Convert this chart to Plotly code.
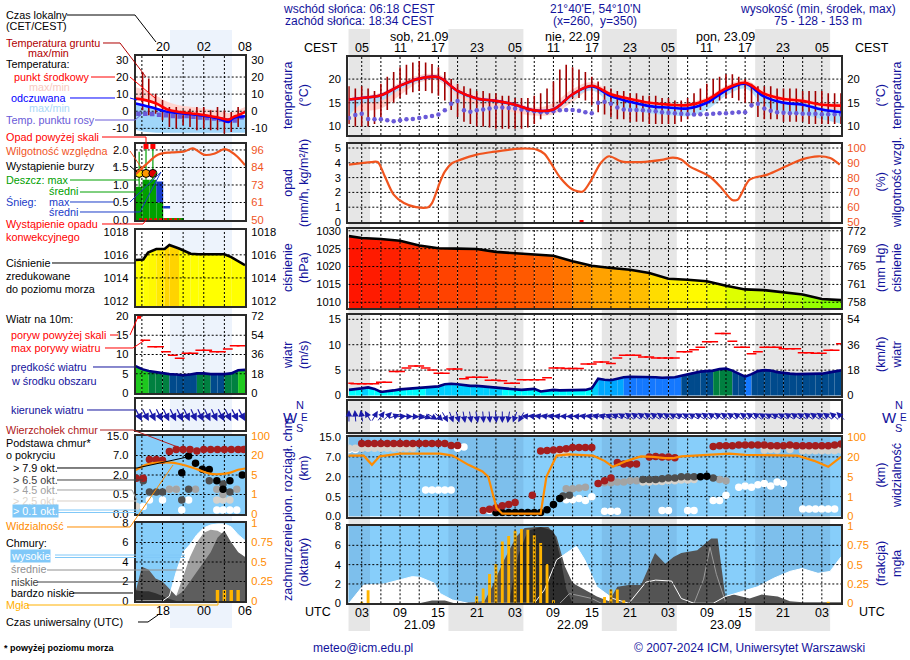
import numpy as np
import plotly.graph_objects as go
from plotly.colors import sample_colorscale

W, H = 910, 660
FONT = "Liberation Sans, Arial, Helvetica, sans-serif"
NAVY = "#12129c"
FRAME = "#2a2a2a"
ORANGE = "#ff8c00"
HUMC = "#f0541e"
SKY = "#87cefa"

# ======================= DATA (main: hours since 21.09 00 UTC) =======================
utc_ticks = [3, 9, 15, 21, 27, 33, 39, 45, 51, 57, 63, 69, 75]
utc_labels = ["03", "09", "15", "21", "03", "09", "15", "21", "03", "09", "15", "21", "03"]
cest_labels = ["05", "11", "17", "23", "05", "11", "17", "23", "05", "11", "17", "23", "05"]
day_pos = [12, 36, 60]
day_top = ["sob, 21.09", "nie, 22.09", "pon, 23.09"]
day_bottom = ["21.09", "22.09", "23.09"]
sunrise_utc = 4.3
sunset_utc = 16.57

t3 = [1, 3, 6, 9, 12, 15, 18, 21, 24, 27, 30, 33, 36, 39, 42, 45, 48, 51, 54, 57, 60, 63, 66, 69, 72, 75, 78]
temp_mid = [15.7, 16.0, 16.6, 18.6, 20.1, 20.4, 17.5, 15.9, 15.4, 14.6, 13.4, 13.6, 16.8, 18.6, 16.8, 15.8, 15.0, 14.6, 14.5, 15.6, 18.0, 19.2, 16.9, 15.8, 15.4, 14.6, 14.4]
temp_hi = [16.2, 16.5, 17.1, 19.3, 20.8, 21.0, 18.4, 16.5, 15.9, 15.1, 14.0, 14.9, 17.9, 19.4, 17.3, 16.2, 15.4, 15.0, 15.0, 16.2, 18.6, 19.8, 17.5, 16.3, 15.9, 15.1, 14.9]
temp_lo = [13.6, 13.3, 13.8, 16.6, 19.3, 19.6, 16.3, 14.6, 14.1, 12.9, 12.3, 12.6, 15.2, 17.8, 15.8, 14.8, 14.0, 13.5, 13.4, 14.6, 17.0, 18.4, 15.5, 14.5, 14.0, 13.2, 12.2]
feels_mid = [15.7, 16.0, 16.6, 18.6, 20.1, 20.4, 17.5, 15.9, 15.4, 14.6, 13.4, 13.6, 16.8, 18.5, 16.4, 15.2, 14.3, 14.0, 13.8, 15.0, 17.6, 19.0, 16.3, 15.0, 14.6, 13.6, 13.0]
feels_hi = [15.9, 16.2, 16.8, 18.8, 20.3, 20.6, 17.7, 16.1, 15.6, 14.8, 13.6, 13.9, 17.1, 18.9, 16.8, 15.6, 14.7, 14.4, 14.2, 15.4, 18.0, 19.4, 16.7, 15.4, 15.0, 14.0, 13.5]
feels_lo = [12.2, 14.8, 15.4, 17.8, 19.6, 19.9, 16.9, 15.4, 14.9, 14.1, 12.9, 13.1, 16.0, 17.6, 15.0, 13.6, 12.8, 12.4, 12.2, 13.5, 16.5, 18.0, 14.5, 13.0, 12.5, 11.5, 10.6]

hours = list(range(1, 79))
ground_max = [18.5, 18.0, 18.5, 18.0, 17.5, 19.0, 20.5, 21.5, 22.5, 23.0,
              23.5, 23.8, 23.5, 23.2, 22.5, 21.5, 20.0, 19.0, 18.5, 18.0,
              17.5, 17.5, 17.0, 17.0, 16.5, 16.5, 16.0, 16.0, 16.0, 16.5,
              17.0, 18.0, 19.5, 22.0, 23.0, 22.5, 22.0, 21.5, 20.5, 19.5,
              18.5, 18.0, 17.5, 17.5, 17.0, 17.0, 16.5, 16.5, 16.5, 16.0,
              16.0, 15.5, 15.5, 16.0, 17.0, 18.0, 19.0, 20.0, 20.5, 21.0,
              21.0, 20.5, 20.0, 19.0, 18.5, 18.5, 18.5, 18.0, 18.0, 18.0,
              18.0, 17.5, 17.5, 17.5, 17.5, 17.0, 17.0, 17.0]
ground_min = [10.5, 10.0, 10.0, 10.0, 10.5, 12.0, 13.5, 15.0, 16.0, 16.7,
              17.2, 17.5, 17.5, 17.0, 16.5, 15.5, 13.5, 12.0, 11.0, 10.5,
              10.0, 10.0, 9.8, 9.5, 9.5, 9.5, 9.5, 9.5, 9.8, 10.5,
              11.5, 12.5, 14.0, 15.0, 15.5, 16.0, 16.0, 15.5, 14.5, 13.0,
              12.5, 12.0, 11.5, 11.5, 11.0, 11.0, 11.0, 10.5, 10.5, 10.5,
              10.5, 10.5, 11.0, 11.5, 12.5, 13.5, 14.5, 15.0, 15.5, 16.0,
              16.0, 15.5, 15.0, 14.0, 12.0, 11.5, 11.5, 11.5, 11.0, 11.0,
              11.0, 11.0, 10.5, 10.5, 10.5, 10.5, 10.5, 10.5]
dew_point = [11.8, 12.4, 12.7, 11.6, 11.5, 11.5, 11.3, 11.1, 11.3, 11.5,
             11.6, 11.8, 12.0, 12.2, 12.5, 13.4, 14.8, 15.4, 13.4, 13.1,
             13.4, 13.6, 13.8, 14.0, 14.0, 13.9, 13.8, 13.6, 13.4, 13.2,
             13.0, 13.0, 13.2, 13.4, 13.5, 13.5, 13.3, 13.0, 12.8, 15.0,
             15.2, 14.8, 14.0, 13.6, 13.5, 13.5, 13.4, 13.3, 13.2, 13.0,
             12.9, 12.8, 12.7, 12.6, 12.5, 12.6, 12.6, 12.7, 12.8, 12.8,
             12.9, 13.0, 13.0, 14.5, 14.8, 13.8, 13.3, 13.0, 12.9, 12.8,
             12.8, 12.7, 12.7, 12.7, 12.6, 12.6, 12.6, 12.5]

hum_t = [1, 4.5, 5.5, 6.5, 8, 9.6, 11.5, 13.4, 14, 15.3, 16, 17.2, 18.4, 21, 23.4, 27.8, 30.4, 31.6, 34.1, 36,
         37.6, 38.8, 40.4, 41.7, 43.6, 46.7, 49.9, 51.7, 53, 54.3, 57.4, 59.3, 60.9, 61.8, 63.7, 66.5, 69.4, 71.9,
         74.4, 76.3, 77.8]
humidity = [88.8, 90.5, 90.5, 82, 68.5, 62.8, 60, 60, 62.8, 77.5, 84, 89.9, 92, 95.5, 97.3, 99.6, 98.9, 96, 79.7, 71.9,
            70.6, 77.5, 89.9, 94.4, 91, 90.5, 92, 93.5, 92.3, 87.6, 80.9, 73, 65.1, 65, 78.6, 82, 87.6, 92.3,
            94.4, 93.3, 88.8]
conv_precip_t = [37.4]
conv_precip_v = [0.0]

press = [1028.5, 1028.0, 1027.7, 1027.2, 1025.9, 1025.1, 1025.0, 1024.9, 1024.1, 1023.7, 1023.4, 1023.0, 1021.5,
         1020.2, 1019.6, 1019.1, 1018.2, 1016.6, 1016.3, 1015.9, 1014.6, 1013.6, 1013.4, 1012.7, 1012.2, 1010.9, 1010.6]
press_ticks = [1010, 1015, 1020, 1025, 1030]
mmhg_labels = ["758", "761", "765", "769", "772"]

wind = [1.1, 1.2, 1.4, 1.6, 1.3, 0.7, 0.8, 1.0, 1.2, 1.3,
        1.3, 1.4, 1.5, 1.6, 1.8, 2.2, 2.3, 2.2, 2.0, 1.9,
        1.9, 1.8, 1.7, 1.6, 1.5, 1.4, 1.2, 1.1, 1.2, 1.3,
        0.8, 1.0, 1.1, 1.0, 1.0, 1.0, 1.0, 1.1, 1.4, 3.3,
        3.1, 3.0, 3.3, 3.6, 3.7, 3.7, 3.7, 3.7, 3.6, 3.5,
        3.5, 3.6, 3.9, 4.2, 4.5, 4.7, 4.8, 4.9, 5.2, 5.3,
        4.9, 4.3, 3.7, 4.2, 4.8, 5.0, 4.9, 4.6, 4.4, 4.3,
        4.2, 4.2, 4.2, 4.3, 4.3, 4.5, 4.7, 4.95]
gust = [2.4, 2.3, 2.3, 2.3, 2.3, 2.6, 2.6, 4.7, 4.7, 5.4,
        5.8, 5.8, 5.4, 5.0, 4.4, 4.4, 5.2, 5.2, 3.3, 3.6,
        3.6, 3.6, 3.0, 3.0, 2.9, 2.4, 2.4, 3.1, 3.1, 3.1,
        3.1, 3.5, 5.4, 5.4, 5.3, 5.3, 5.3, 6.2, 6.2, 6.6,
        6.6, 6.3, 7.4, 7.9, 7.9, 7.9, 7.6, 7.6, 7.4, 7.4,
        7.4, 7.4, 8.6, 8.6, 9.0, 9.5, 10.6, 10.6, 12.2, 12.2,
        10.7, 9.5, 9.5, 8.2, 8.6, 9.5, 9.5, 9.5, 9.2, 9.2,
        9.2, 8.4, 8.4, 8.3, 8.3, 8.9, 8.9, 10.2]
wind_dir = [90, 95, 100, 120, 60, 55, 45, 20, 5, 0,
            -5, -10, -20, -30, -45, -60, -70, -75, -80, -80,
            -80, -85, -85, -85, -90, -100, -110, -120, 175, 172,
            170, 168, 170, 172, 175, 178, 175, 170, 168, 165,
            165, 160, 155, 150, 145, 145, 145, 145, 145, 145,
            148, 150, 150, 150, 150, 148, 145, 145, 145, 145,
            145, 145, 145, 145, 145, 150, 152, 152, 150, 148,
            148, 148, 145, 145, 145, 145, 140, 135]

# cloud tops / bases (km a.s.l.)
ctop_t = [3, 4, 5, 6, 7, 8, 9, 10, 11, 12, 13, 14, 15, 16, 17, 18,
          22, 23, 24, 25, 26, 27, 29.7,
          31, 32, 33, 34, 35, 36, 37, 38, 39,
          40, 41, 42, 43, 44, 45, 46,
          48, 49, 50, 51, 52,
          58, 59, 60, 61, 62, 63, 64, 65, 66, 67, 68, 69, 70, 71, 72, 73, 74, 75, 76, 77, 78]
ctop_km = [12.4, 12.4, 12.4, 12.4, 12.4, 12.4, 12.4, 12.4, 12.4, 12.4, 12.4, 12.4, 12.4, 12.4, 11.6, 11.6,
           0.15, 0.18, 0.22, 0.27, 0.3, 0.35, 0.6,
           9.4, 9.6, 9.8, 10.0, 10.3, 10.8, 10.8, 10.8, 10.8,
           1.5, 1.7, 1.9, 5.6, 5.2, 5.2, 5.2,
           7.0, 7.2, 7.0, 7.0, 6.8,
           11.2, 11.5, 11.5, 11.5, 11.8, 11.8, 11.8, 11.8, 11.8, 11.5, 11.5, 11.5, 11.8, 11.5, 11.5, 11.5, 11.5, 11.5, 11.5, 11.8, 12.2]
cb79_t = [24, 25, 26, 27, 28, 29, 30, 31, 32, 33, 34, 56, 57]
cb79_km = [0.1, 0.1, 0.1, 0.1, 0.1, 0.1, 0.1, 0.1, 0.17, 0.3, 0.45, 2.0, 2.1]
cb65_t = [34.5, 35.5, 47, 48, 49, 50, 51, 52, 53, 54, 55, 58]
cb65_km = [0.55, 0.6, 1.8, 1.8, 1.8, 1.85, 1.9, 1.9, 2.0, 2.0, 2.0, 1.9]
cb45_t = [35, 36, 37, 38, 40, 41, 42, 43, 44, 45, 46, 59, 60]
cb45_km = [1.1, 1.1, 1.15, 1.2, 1.5, 1.55, 1.55, 1.6, 1.6, 1.7, 1.7, 1.8, 1.7]
cb25_t = [1, 2, 3, 4, 5, 6, 7, 8, 9, 10, 11, 34, 35, 47, 48, 49, 50, 51, 52, 53, 54, 55,
          66, 67, 68, 70, 72, 73, 74, 75, 76, 77, 78]
cb25_km = [10.5, 10.5, 10.5, 10.5, 10.5, 10.5, 10.5, 10.5, 10.5, 10.5, 10.5, 8.5, 8.5,
           1.6, 1.6, 1.65, 1.65, 1.7, 1.7, 1.75, 1.75, 1.8,
           9.8, 10.0, 9.8, 10.0, 9.5, 9.5, 9.5, 9.5, 9.5, 9.5, 9.8]
cb01_t = [1, 2, 13, 14, 15, 16, 17, 18, 19, 22, 23, 35, 36, 37, 38, 39, 41, 42, 43, 50, 51, 54, 55,
          58, 59, 60, 62, 63, 64, 65, 66, 67, 68, 69, 72, 73, 74, 75, 76, 77]
cb01_km = [10.0, 10.0, 1.0, 1.0, 1.0, 1.0, 1.0, 10.5, 11.0, 0.15, 0.15, 0.42, 0.42, 0.45, 0.4, 0.5,
           0.13, 0.13, 0.13, 0.15, 0.15, 0.15, 0.15, 0.4, 0.4, 0.6, 1.2, 1.3, 1.2, 1.4, 1.5, 1.3, 1.6, 1.5,
           0.19, 0.19, 0.19, 0.19, 0.19, 0.19]
vis_t = [0.9, 3.3, 4.6, 5.8, 9, 15.3, 17.2, 19.7, 21.9, 22.8, 24.1, 25, 31, 31.9, 33.5, 35.4, 39.2, 41, 42.3,
         44.5, 46.7, 48.6, 50.5, 51.7, 53, 56.8, 60.5, 63, 65.6, 68.7, 71.2, 73.8, 76, 78]
vis_km = [24.8, 24.8, 14, 22, 32.8, 32.8, 25, 14, 9, 5, 0.42, 0.14, 0.14, 5, 25, 30, 25, 17, 12.5,
          17, 22, 20, 19, 19, 22, 28, 33, 28, 28, 25, 25, 17, 12.5, 20]

# cloud cover (octas) and fog fraction
high_t = [1, 3.3, 6.5, 10.9, 12.1, 14.3, 15.3, 17.2, 19.7, 30, 31.6, 33.5, 36.6, 37.9, 39.8, 42.3, 44.8,
          47.5, 49, 51.5, 53, 55, 58, 59.9, 62.4, 64.9, 67.5, 70, 71.9, 74.4, 76.3, 78]
high_cc = [0, 1.9, 2.0, 2.76, 2.7, 2.1, 1.0, 0.34, 0, 0, 1.4, 4.5, 5.9, 4.5, 1.7, 0.5, 0,
           2.2, 2.4, 2.3, 0.5, 0, 0, 0.7, 1.2, 1.7, 2.6, 3.3, 3.6, 3.1, 3.3, 4.8]
low_t = [1, 12, 14, 16, 17.5, 22.2, 23.4, 25.3, 27.2, 28.5, 30.4, 32.2, 33.5, 34.8, 36, 37.9, 39.8, 41.7, 43,
         44.8, 46.7, 48.9, 50.5, 51.8, 53, 55.5, 57.7, 58.7, 59.9, 61.2, 63.7, 65.6, 68.1, 70, 72, 78]
low_cc = [0, 0, 0.3, 0.3, 0, 0.2, 1.7, 4.5, 6.9, 7.8, 7.9, 7.9, 6.9, 3.8, 2.1, 1.4, 0.7, 0.2, 1.7,
          1.9, 1.9, 5.2, 4.1, 4.8, 5.2, 5.5, 6.7, 6.7, 0.7, 0.9, 0.5, 0.9, 0.7, 0.2, 0.1, 0.1]
vlow_t = [26, 27.5, 29, 31, 33, 34, 35, 36]
vlow_cc = [0, 5.0, 7.5, 7.9, 7.5, 5.0, 1.5, 0]
mid_t = [34, 35.5, 37, 39, 40.5, 55, 56.5, 57.5, 58.5, 60]
mid_cc = [0, 1.0, 0.8, 0.5, 0, 0, 2.5, 5.8, 3.0, 0]
fog_t = [3, 4, 21, 22, 23, 24, 25, 26, 27, 28, 29, 30, 31, 32, 33, 41, 42, 43, 44, 76]
fog = [0.02, 0.17, 0.09, 0.19, 0.38, 0.51, 0.8, 0.87, 0.94, 0.96, 0.95, 0.88, 0.78, 0.51, 0.04, 0.08, 0.18, 0.18, 0.04, 0.02]

# ======================= DATA (legend mini panels: hours since 20.09 00 UTC) =======================
m_ticks = [18, 24, 30]
m_top_labels = ["20", "02", "08"]
m_bot_labels = ["18", "00", "06"]
mt_t = [14.1, 15.2, 17.1, 18.7, 20.4, 22.3, 24.2, 26.1, 27.6, 28.3, 29.0, 30.0]
mt_mid = [7.4, 6.8, 4.5, 1.0, -0.4, -1.3, -2.3, -3.7, -4.9, -3.4, -2.3, -0.4]
mt_hi = [14.0, 12.5, 9.0, 5.5, 3.5, 2.5, 1.5, 0.5, -1.0, -0.5, 0.8, 2.5]
mt_feel = [4.5, 3.5, 1.5, -0.3, -1.0, -1.8, -2.8, -4.2, -6.2, -4.0, -3.4, -2.9]
mt_feel_lo = [-11, -12, -12.5, -12.5, -12.5, -12.5, -12.5, -12.5, -12.5, -12.5, -12.5, -12.5]
mg_t = [15.1, 16.0, 17.0, 18.0, 19.0, 20.0, 21.0, 22.0, 23.0, 24.0, 25.0, 26.0, 27.0, 28.0, 29.0]
mg_max = [23.0, 19.1, 10.3, 6.4, 2.5, 2.5, 0.6, 1.5, 2.5, 2.5, 0.6, 2.5, 0.6, -0.5, 2.5]
mg_min = [0.6, -2.3, -1.4, -5.3, -9.2, -10.1, -8.2, -9.2, -11.1, -10.1, -11.1, -11.1, -13.0, -12.1, -9.2]
md_t = [14.5, 15.5, 16.5, 17.5, 18.5, 19.5, 20.5, 21.5, 22.5, 23.5, 24.5, 25.5, 26.5, 27.5, 28.5, 29.5]
md = [-1.4, -1.4, -1.6, -2.0, -2.4, -2.8, -3.0, -2.8, -3.2, -3.6, -3.9, -4.2, -4.8, -5.2, -5.4, -3.5]
mp_t = [14.6, 15.6, 16.6, 17.6, 18.6, 19.6, 20.6]
m_rain = [0.95, 1.15, 1.15, 0.5, 0.05, 0.05, 0.05]
m_snow_lo = [0, 0, 0, 0.5, 0.33, 0, 0]
m_snow_hi = [0, 0, 0, 1.1, 0.4, 0, 0]
m_rmax_t = [14.6, 15.6, 16.6]
m_rmax_base = [0.95, 1.15, 1.15]
m_rmax = [1.95, 2.1, 2.1]
m_storm_y = [1.33, 1.33, 1.33]
m_storm_col = ["#ffe000", "#ff9900", "#e00000"]
m_over_t = [15.6, 16.6]
m_over_y = [2.1, 2.1]
mh_t = [14.1, 15.5, 17.4, 19.3, 21.2, 22.4, 24.1, 25.5, 27.0, 27.9, 28.9, 30.0]
mh = [80, 86, 93, 94.4, 95, 97, 92.8, 93.5, 96.5, 95, 91.5, 86]
mpr_t = [14.1, 15.2, 15.9, 17.1, 18.3, 19.0, 20.4, 22.1, 23.2, 27.0, 28.0, 30.0]
mpr = [1015.55, 1015.6, 1016.2, 1016.5, 1016.5, 1016.85, 1016.55, 1016.1, 1016.05, 1016.05, 1015.8, 1015.1]
mw_t = [14.1, 15, 16, 17, 18, 19, 20, 21, 22, 23, 24, 25, 26, 27, 28, 29, 30]
mw = [7.0, 6.2, 5.7, 5.4, 5.1, 4.9, 4.8, 4.6, 4.8, 5.1, 5.1, 4.9, 4.9, 4.9, 5.1, 5.9, 6.0]
mgust_t = [15.5, 16.5, 17.5, 18.5, 19.5, 20.5, 21.5, 22.5, 23.5, 24.5, 25.5, 26.5, 27.5, 28.5, 29.5]
mgust = [13.7, 12.0, 12.0, 10.7, 9.8, 9.0, 10.3, 10.3, 11.1, 11.1, 10.7, 10.7, 11.4, 12.3, 12.3]
m_gust_over_t = [14.6]
m_gust_over = [19.8]
mdir_t = [14.5, 15.5, 16.5, 17.5, 18.5, 19.5, 20.5, 21.5, 22.5, 23.5, 24.5, 25.5, 26.5, 27.5, 28.5, 29.5]
mdir = [-62, -62, -63, -63, -64, -64, -64, -65, -65, -65, -64, -64, -63, -63, -62, -62]
mtop_t = [14.2, 15.2, 16.1, 17.1, 18.0, 19.0, 20.0, 21.0, 22.0, 23.0, 24.0, 25.0, 26.0, 27.0, 28.0, 29.0, 29.8]
mtop_km = [1.75, 1.75, 6.0, 6.0, 5.8, 8.6, 9.5, 9.5, 9.5, 8.8, 9.5, 9.5, 9.5, 9.5, 9.5, 9.5, 9.5]
mb79_t = [20.8, 21.8, 22.8, 23.8, 24.8, 25.9, 26.8, 27.8, 29.6]
mb79_km = [2.6, 6.9, 5.0, 3.5, 3.4, 1.55, 0.9, 1.55, 2.0]
mb65_t = [15.2, 16.1, 17.1, 18.0, 20.8, 21.8, 24.8, 26.8, 27.8]
mb65_km = [1.55, 0.7, 0.7, 0.7, 0.36, 0.9, 1.55, 1.3, 0.7]
mb45_t = [19.0, 20.0, 22.8, 25.9, 26.8, 28.8]
mb45_km = [0.9, 0.9, 0.9, 0.9, 0.5, 0.9]
mb25_t = [14.2, 19.0, 20.0, 25.9, 26.8, 27.8]
mb25_km = [0.2, 0.9, 0.9, 0.36, 0.36, 0.36]
mb01_t = [15.2, 16.1, 18.0, 20.8, 21.8, 25.9, 26.8, 27.8, 28.8]
mb01_km = [0.19, 0.36, 0.36, 0.1, 0.36, 0.1, 0.1, 0.1, 0.1]
mv_t = [14.1, 15.7, 17.4, 19.3, 21.2, 23.0, 24.9, 26.8, 28.0, 29.0, 30.0]
mv_km = [8.9, 13, 14.5, 14.5, 12.5, 9.5, 6, 5.8, 7, 9, 10]
mc_t = [14.1, 15, 16, 17, 18, 19, 20, 21, 22, 23, 24, 25, 26, 27, 28, 29, 30]
mc_high = [0, 0, 0, 0, 0, 0.5, 3.0, 5.0, 5.8, 6.8, 7.5, 7.8, 7.9, 7.9, 7.6, 6.8, 6.2]
mc_mid = [0, 0, 0, 0, 0, 0, 0.5, 2.5, 4.5, 6.0, 7.0, 7.3, 7.2, 6.8, 6.0, 5.0, 4.5]
mc_low = [1.0, 3.5, 3.2, 2.3, 2.0, 1.2, 0.5, 1.0, 2.0, 3.0, 4.0, 5.0, 6.5, 7.2, 6.0, 5.0, 4.5]
mc_vlow = [1.1, 1.0, 1.0, 0.8, 0.5, 0.2, 0, 0, 0, 0, 0, 0, 0, 0, 0, 0, 0]
mf_t = [26, 27, 28, 29]
mf = [0.14, 0.14, 0.14, 0.14]

# ======================= helpers =======================
CLOUD_KM = [0, 0.5, 2, 7, 15]
VIS_KM = [0, 1, 5, 20, 100]
TICKF = 11.2
LEGF = 10.8


def idx_cloud(v):
    return list(np.interp(v, CLOUD_KM, [0, 1, 2, 3, 4]))


def idx_vis(v):
    return list(np.interp(v, VIS_KM, [0, 1, 2, 3, 4]))


P_CS = [[0.0, "rgb(120,255,0)"], [0.15, "rgb(205,255,0)"], [0.3, "rgb(255,255,0)"],
        [0.5, "rgb(255,170,0)"], [0.75, "rgb(255,80,0)"], [1.0, "rgb(255,18,0)"]]
MP_CS = [[0.0, "rgb(255,255,0)"], [1.0, "rgb(255,200,0)"]]


def wind_color(v):
    if v >= 5.8:
        return "#1ec81e"
    if v >= 5.0:
        return "#008040"
    if v >= 4.0:
        return "#004a8c"
    if v >= 3.5:
        return "#1478ff"
    if v >= 2.5:
        return "#00a8ff"
    if v >= 1.5:
        return "#00d0ff"
    return "#00ffff"


fig = go.Figure()
L = dict(width=W, height=H, margin=dict(l=0, r=0, t=0, b=0, pad=0, autoexpand=False), paper_bgcolor="white",
         plot_bgcolor="rgba(0,0,0,0)", showlegend=False, barmode="overlay",
         font=dict(family=FONT, size=TICKF, color="black"))
shapes, annos = [], []
cnt = {"x": 0, "y": 0}


def _new(k):
    cnt[k] += 1
    n = cnt[k]
    return (f"{k}axis" if n == 1 else f"{k}axis{n}"), (k if n == 1 else f"{k}{n}")


def panel(xpx, ypx, xr, yr, lt=(), ltt=None, rt=None, rtt=None, rcol="black", yr2=None):
    xk, xa = _new("x")
    yk, ya = _new("y")
    L[xk] = dict(domain=[xpx[0] / W, xpx[1] / W], range=list(xr), anchor=ya, showgrid=False, zeroline=False,
                 showline=True, mirror=True, linecolor=FRAME, linewidth=2, ticks="", showticklabels=False,
                 fixedrange=True, automargin=False)
    L[yk] = dict(domain=[1 - ypx[1] / H, 1 - ypx[0] / H], range=list(yr), anchor=xa, showgrid=False,
                 zeroline=False, showline=True, mirror=True, linecolor=FRAME, linewidth=2, tickmode="array",
                 tickvals=list(lt), ticktext=ltt if ltt is not None else [str(v) for v in lt],
                 ticks="outside", ticklen=3, tickcolor="rgba(0,0,0,0)", fixedrange=True, automargin=False)
    y2 = None
    if rt is not None:
        yk2, y2 = _new("y")
        r2 = list(yr2 if yr2 is not None else yr)
        L[yk2] = dict(overlaying=ya, side="right", anchor=xa, range=r2, showgrid=False, zeroline=False,
                      showline=False, tickmode="array", tickvals=list(rt),
                      ticktext=rtt if rtt is not None else [str(v) for v in rt], ticks="outside", ticklen=3,
                      tickcolor="rgba(0,0,0,0)", tickfont=dict(color=rcol), fixedrange=True, automargin=False)
        fig.add_trace(go.Scatter(x=[xr[0]], y=[r2[0]], mode="markers", marker=dict(opacity=0),
                                 xaxis=xa, yaxis=y2, hoverinfo="skip"))
    return dict(x=xa, y=ya, y2=y2, xk=xk, yk=yk, xr=xr, yr=yr, r2=yr2)


def sc(p, y2=False, **kw):
    fig.add_trace(go.Scatter(xaxis=p["x"], yaxis=(p["y2"] if y2 else p["y"]), hoverinfo="skip", **kw))


def grid(p, xs, ys, y2=False):
    xr = p["xr"]
    yr = p["r2"] if y2 else p["yr"]
    gx, gy = [], []
    for v in xs:
        if xr[0] + 0.2 < v < xr[1] - 0.2:
            gx += [v, v, None]
            gy += [yr[0], yr[1], None]
    for v in ys:
        if yr[0] < v < yr[1]:
            gx += [xr[0], xr[1], None]
            gy += [v, v, None]
    sc(p, y2=y2, x=gx, y=gy, mode="lines", line=dict(color="black", width=1, dash="2px,2px"))


def seg_fill(p, t, v, colors):
    for i in range(len(t) - 1):
        sc(p, x=[t[i], t[i + 1]], y=[v[i], v[i + 1]], mode="lines", fill="tozeroy",
           fillcolor=colors[i], line=dict(width=0.8, color=colors[i]))


def vbars(p, t, lo, hi, color, width):
    gx, gy = [], []
    for a, b, c in zip(t, lo, hi):
        gx += [a, a, None]
        gy += [b, c, None]
    sc(p, x=gx, y=gy, mode="lines", line=dict(color=color, width=width))


def arrows(p, ts, angs, length=13, width=1.0, size=1.3):
    for t, a in zip(ts, angs):
        r = np.radians(a)
        dx, dy = float(np.cos(r)), float(np.sin(r))
        annos.append(dict(x=t, y=0, xref=p["x"], yref=p["y"], text="", showarrow=True, arrowhead=2,
                          arrowsize=size, arrowwidth=width, arrowcolor="#1a1aa8", ax=-length * dx,
                          ay=length * dy, xshift=length / 2 * dx, yshift=length / 2 * dy))


def sky_bg(p, nights):
    shapes.append(dict(type="rect", xref=p["x"], yref=p["y"], x0=p["xr"][0], x1=p["xr"][1],
                       y0=p["yr"][0], y1=p["yr"][1], fillcolor=SKY, line=dict(width=0), layer="below"))
    for a, b in nights:
        shapes.append(dict(type="rect", xref=p["x"], yref=p["y"], x0=a, x1=b, y0=p["yr"][0], y1=p["yr"][1],
                           fillcolor="rgba(0,0,60,0.07)", line=dict(width=0), layer="below"))


def dots(p, t, km, color, size=7.5):
    sc(p, x=t, y=idx_cloud(km), mode="markers", marker=dict(size=size, color=color, line=dict(width=0)))


def xlabels(p, vals, labels, ypx, size=12.5):
    for v, s in zip(vals, labels):
        annos.append(dict(text=s, x=v, y=1 - ypx / H, xref=p["x"], yref="paper", showarrow=False,
                          xanchor="center", yanchor="middle", font=dict(size=size, color="black")))


# ======================= MAIN PANELS =======================
XR = (0.9, 78.0)
MX = (348.3, 841)
vgrid = list(range(3, 78, 3))
nights = [(XR[0], sunrise_utc)] + [(sunset_utc + 24 * k, sunrise_utc + 24 * (k + 1)) for k in range(3)]

pT = panel(MX, (57, 135), XR, (8.2, 24.66), lt=[10, 15, 20], rt=[10, 15, 20])
pP = panel(MX, (144, 222), XR, (0, 5.27), lt=[0, 1, 2, 3, 4, 5], rt=[50, 60, 70, 80, 90, 100], rcol=HUMC,
           yr2=(50, 102.7))
pS = panel(MX, (229, 308), XR, (1008.4, 1030.5), lt=press_ticks, rt=press_ticks, rtt=mmhg_labels)
pW = panel(MX, (315, 396), XR, (-0.1, 15.85), lt=[0, 5, 10, 15], rt=[0, 5, 10, 15], rtt=["0", "18", "36", "54"])
pD = panel(MX, (401, 432), XR, (-1, 1), lt=[])
pC = panel(MX, (437, 516.5), XR, (0, 4), lt=[0, 1, 2, 3, 4], ltt=["0.0", "0.5", "2.0", "7.0", "15.0"],
           rt=[0, 1, 2, 3, 4], rtt=["0", "1", "5", "20", "100"], rcol=ORANGE)
pN = panel(MX, (526, 603.3), XR, (0, 8), lt=[0, 2, 4, 6, 8], rt=[0, 0.25, 0.5, 0.75, 1],
           rtt=["0", "0.25", "0.5", "0.75", "1"], rcol=ORANGE, yr2=(0, 1))
xlabels(pT, utc_ticks, cest_labels, 48)
xlabels(pN, utc_ticks, utc_labels, 612.5)
xlabels(pT, day_pos, day_top, 37)
xlabels(pT, day_pos, day_bottom, 625)

# night bands behind everything
for a, b in nights:
    shapes.append(dict(type="rect", xref=pT["x"], yref="paper", x0=a, x1=b, y0=1 - 631 / H, y1=1 - 29 / H,
                       fillcolor="#e6e6e6", line=dict(width=0), layer="below"))

# temperature
sc(pT, x=t3, y=temp_lo, mode="lines", line=dict(width=0, shape="spline"))
sc(pT, x=t3, y=temp_hi, mode="lines", line=dict(width=0, shape="spline"), fill="tonexty", fillcolor="#ffd3ce")
sc(pT, x=t3, y=feels_lo, mode="lines", line=dict(width=0, shape="spline"))
sc(pT, x=t3, y=feels_hi, mode="lines", line=dict(width=0, shape="spline"), fill="tonexty",
   fillcolor="rgba(170,220,252,0.9)")
grid(pT, vgrid, [10, 15, 20])
vbars(pT, hours, ground_min, ground_max, "#a00000", 1.6)
sc(pT, x=hours, y=dew_point, mode="markers", marker=dict(size=4.5, color="#6a5ad8", line=dict(width=0)))
sc(pT, x=t3, y=feels_mid, mode="lines", line=dict(color="#0000ff", width=2.6, shape="spline"))
sc(pT, x=t3, y=temp_mid, mode="lines", line=dict(color="#ff0000", width=2.6, shape="spline"))

# precipitation / humidity
grid(pP, vgrid, [1, 2, 3, 4, 5])
sc(pP, x=conv_precip_t, y=conv_precip_v, mode="markers",
   marker=dict(symbol="square", size=4, color="#ff0000"), cliponaxis=False)
sc(pP, y2=True, x=hum_t, y=humidity, mode="lines", line=dict(color=HUMC, width=2.2, shape="spline", smoothing=0.8))

# pressure
p_cols = sample_colorscale(P_CS, [min(1, max(0, ((press[i] + press[i + 1]) / 2 - 1010.5) / 18.0))
                                  for i in range(len(press) - 1)])
seg_fill(pS, t3, press, p_cols)
grid(pS, vgrid, press_ticks)
sc(pS, x=t3, y=press, mode="lines", line=dict(color="black", width=2.6))

# wind
seg_fill(pW, hours, wind, [wind_color((wind[i] + wind[i + 1]) / 2) for i in range(len(wind) - 1)])
grid(pW, vgrid, [5, 10, 15])
sc(pW, x=hours, y=wind, mode="lines", line=dict(color="#000080", width=2.6))
sc(pW, x=hours, y=gust, mode="markers",
   marker=dict(symbol="line-ew", size=7, line=dict(width=1.5, color="#ff0000")))

# wind direction
grid(pD, vgrid, [])
arrows(pD, hours, wind_dir)

# clouds base/top + visibility
sky_bg(pC, nights)
grid(pC, vgrid, [1, 2, 3])
dots(pC, cb01_t, cb01_km, "#ffffff")
dots(pC, cb25_t, cb25_km, "#d6d2cc")
dots(pC, cb45_t, cb45_km, "#a4a4a4")
dots(pC, cb65_t, cb65_km, "#4e4e4e")
dots(pC, cb79_t, cb79_km, "#000000")
dots(pC, ctop_t, ctop_km, "#a41e1e")
sc(pC, x=vis_t, y=idx_vis(vis_km), mode="lines", line=dict(color=ORANGE, width=2.2))

# cloud cover + fog
sky_bg(pN, nights)
sc(pN, x=high_t, y=high_cc, mode="lines", fill="tozeroy", fillcolor="#ffffff", line=dict(width=0))
sc(pN, x=low_t, y=low_cc, mode="lines", fill="tozeroy", fillcolor="#545454", line=dict(width=0))
sc(pN, x=vlow_t, y=vlow_cc, mode="lines", fill="tozeroy", fillcolor="#2e2e2e", line=dict(width=0))
sc(pN, x=mid_t, y=mid_cc, mode="lines", line=dict(color="#9a9a9a", width=1))
sc(pN, x=high_t, y=high_cc, mode="lines", line=dict(color="#ffffff", width=1))
fig.add_trace(go.Bar(x=fog_t, y=fog, width=0.45, marker=dict(color="#ffb400", line=dict(width=0)),
                     xaxis=pN["x"], yaxis=pN["y2"], hoverinfo="skip"))
grid(pN, vgrid, [0.25, 0.5, 0.75], y2=True)

# ======================= LEGEND MINI PANELS =======================
XRm = (14.1, 30.0)
MXm = (135.7, 245)
mgrid = [15, 18, 21, 24, 27]
shapes.append(dict(type="rect", xref="paper", yref="paper", x0=170 / W, x1=232 / W, y0=1 - 628 / H,
                   y1=1 - 30 / H, fillcolor="#edf3fc", line=dict(width=0), layer="below"))

qT = panel(MXm, (56, 134), XRm, (-13.3, 32.3), lt=[-10, 0, 10, 20, 30], rt=[-10, 0, 10, 20, 30])
qP = panel(MXm, (144, 220), XRm, (0, 2.17), lt=[0, 0.5, 1, 1.5, 2], ltt=["0.0", "0.5", "1.0", "1.5", "2.0"],
           rt=[50, 61.5, 73, 84.5, 96], rtt=["50", "61", "73", "84", "96"], rcol=HUMC, yr2=(50, 99.9))
qS = panel(MXm, (230, 306), XRm, (1011.57, 1018.15), lt=[1012, 1014, 1016, 1018], rt=[1012, 1014, 1016, 1018])
qW = panel(MXm, (316, 393), XRm, (0, 20), lt=[0, 5, 10, 15, 20], rt=[0, 5, 10, 15, 20],
           rtt=["0", "18", "36", "54", "72"])
qD = panel(MXm, (399, 430), XRm, (-1, 1), lt=[])
qC = panel(MXm, (436, 514), XRm, (0, 4), lt=[0, 1, 2, 3, 4], ltt=["0.0", "0.5", "2.0", "7.0", "15.0"],
           rt=[0, 1, 2, 3, 4], rtt=["0", "1", "5", "20", "100"], rcol=ORANGE)
qN = panel(MXm, (523, 601), XRm, (0, 8), lt=[0, 2, 4, 6, 8], rt=[0, 0.25, 0.5, 0.75, 1],
           rtt=["0", "0.25", "0.5", "0.75", "1"], rcol=ORANGE, yr2=(0, 1))
xlabels(qT, m_ticks, m_top_labels, 47)
xlabels(qN, m_ticks, m_bot_labels, 611)

# mini temperature
sc(qT, x=mt_t, y=mt_mid, mode="lines", line=dict(width=0, shape="spline"))
sc(qT, x=mt_t, y=mt_hi, mode="lines", line=dict(width=0, shape="spline"), fill="tonexty", fillcolor="#ffd3ce")
sc(qT, x=mt_t, y=mt_feel_lo, mode="lines", line=dict(width=0))
sc(qT, x=mt_t, y=mt_feel, mode="lines", line=dict(width=0, shape="spline"), fill="tonexty",
   fillcolor="rgba(150,210,250,0.9)")
grid(qT, mgrid, [-10, 0, 10, 20])
vbars(qT, mg_t, mg_min, mg_max, "#a00000", 1.6)
sc(qT, x=md_t, y=md, mode="markers", marker=dict(symbol="square", size=4.5, color="#6a5ad8"))
sc(qT, x=mt_t, y=mt_feel, mode="lines", line=dict(color="#0000ff", width=2.6, shape="spline"))
sc(qT, x=mt_t, y=mt_mid, mode="lines", line=dict(color="#ff0000", width=2.6, shape="spline"))

# mini precipitation
fig.add_trace(go.Bar(x=mp_t, y=m_rain, width=1.0, marker=dict(color="#00a000", line=dict(width=0)),
                     xaxis=qP["x"], yaxis=qP["y"], hoverinfo="skip"))
fig.add_trace(go.Bar(x=mp_t, y=[h - l for h, l in zip(m_snow_hi, m_snow_lo)], base=m_snow_lo, width=1.0,
                     marker=dict(color="#1a3cc8", line=dict(width=0)), xaxis=qP["x"], yaxis=qP["y"],
                     hoverinfo="skip"))
grid(qP, mgrid, [0.5, 1.0, 1.5, 2.0])
vbars(qP, m_rmax_t, m_rmax_base, m_rmax, "#00a000", 1.2)
sc(qP, x=[mp_t[0], mp_t[-1]], y=[0.02, 0.02], mode="lines", line=dict(color="#ff0000", width=2, dash="3px,2px"))
sc(qP, x=m_over_t, y=m_over_y, mode="markers", marker=dict(symbol="square", size=5, color="#ff0000"),
   cliponaxis=False)
sc(qP, x=m_rmax_t, y=m_storm_y, mode="markers",
   marker=dict(size=8, color=m_storm_col, line=dict(width=1, color="black")))
sc(qP, y2=True, x=mh_t, y=mh, mode="lines", line=dict(color=HUMC, width=2.2, shape="spline"))

# mini pressure
mp_cols = sample_colorscale(MP_CS, [min(1, max(0, ((mpr[i] + mpr[i + 1]) / 2 - 1016.3) / 0.5))
                                    for i in range(len(mpr) - 1)])
seg_fill(qS, mpr_t, mpr, mp_cols)
grid(qS, mgrid, [1014, 1016])
sc(qS, x=mpr_t, y=mpr, mode="lines", line=dict(color="black", width=2.6))

# mini wind
seg_fill(qW, mw_t, mw, [wind_color((mw[i] + mw[i + 1]) / 2) for i in range(len(mw) - 1)])
grid(qW, mgrid, [5, 10, 15])
sc(qW, x=mw_t, y=mw, mode="lines", line=dict(color="#000080", width=2.6))
sc(qW, x=mgust_t, y=mgust, mode="markers",
   marker=dict(symbol="line-ew", size=7, line=dict(width=1.5, color="#ff0000")))
sc(qW, x=m_gust_over_t, y=m_gust_over, mode="markers", marker=dict(symbol="square", size=4, color="#ff0000"))

# mini wind direction
grid(qD, mgrid, [])
arrows(qD, mdir_t, mdir, length=15, width=1.2)

# mini clouds
sky_bg(qC, [])
grid(qC, mgrid, [1, 2, 3])
dots(qC, mb01_t, mb01_km, "#ffffff")
dots(qC, mb25_t, mb25_km, "#d6d2cc")
dots(qC, mb45_t, mb45_km, "#a4a4a4")
dots(qC, mb65_t, mb65_km, "#4e4e4e")
dots(qC, mb79_t, mb79_km, "#000000")
dots(qC, mtop_t, mtop_km, "#a41e1e")
sc(qC, x=mv_t, y=idx_vis(mv_km), mode="lines", line=dict(color=ORANGE, width=2.2, shape="spline"))

sky_bg(qN, [])
sc(qN, x=mc_t, y=mc_high, mode="lines", fill="tozeroy", fillcolor="#ffffff", line=dict(width=0))
sc(qN, x=mc_t, y=mc_mid, mode="lines", fill="tozeroy", fillcolor="#a0a0a0", line=dict(width=0))
sc(qN, x=mc_t, y=mc_low, mode="lines", fill="tozeroy", fillcolor="#5e5e5e", line=dict(width=0))
sc(qN, x=mc_t, y=mc_vlow, mode="lines", fill="tozeroy", fillcolor="#303030", line=dict(width=0))
sc(qN, x=mc_t, y=mc_high, mode="lines", line=dict(color="#ffffff", width=1))
fig.add_trace(go.Bar(x=mf_t, y=mf, width=0.5, marker=dict(color="#ffb400", line=dict(width=0)),
                     xaxis=qN["x"], yaxis=qN["y2"], hoverinfo="skip"))
grid(qN, mgrid, [0.25, 0.5, 0.75], y2=True)


# ======================= TEXT =======================
def txt(s, x, y, color="black", size=11.5, anchor="left", bg=None, angle=0, bold=False):
    a = dict(text=("<b>%s</b>" % s) if bold else s, x=x / W, y=1 - y / H, xref="paper", yref="paper",
             showarrow=False, xanchor=anchor, yanchor="middle", font=dict(size=size, color=color, family=FONT),
             textangle=angle, borderpad=0)
    if bg:
        a["bgcolor"] = bg
    annos.append(a)


txt("wschód słońca: 06:18 CEST", 359, 9, NAVY, 12, "center")
txt("zachód słońca: 18:34 CEST", 359, 21, NAVY, 12, "center")
txt("21°40'E, 54°10'N", 595, 9, NAVY, 12, "center")
txt("(x=260,  y=350)", 595, 21, NAVY, 12, "center")
txt("wysokość (min, środek, max)", 818, 9, NAVY, 12, "center")
txt("75 - 128 - 153 m", 818, 21, NAVY, 12, "center")
txt("meteo@icm.edu.pl", 363, 648, NAVY, 12, "center")
txt("© 2007-2024 ICM, Uniwersytet Warszawski", 749, 648, NAVY, 12, "center")
txt("CEST", 321, 48, "black", 12.5, "center")
txt("CEST", 872, 48, "black", 12.5, "center")
txt("UTC", 318, 612, "black", 12.5, "center")
txt("UTC", 872, 612, "black", 12.5, "center")

titles_l = [("temperatura<br>(°C)", 96), ("opad<br>(mm/h, kg/m²/h)", 183), ("ciśnienie<br>(hPa)", 268),
            ("wiatr<br>(m/s)", 355), ("pion. rozciągł. chm.<br>(km)", 468), ("zachmurzenie<br>(oktanty)", 562)]
titles_r = [("(°C)<br>temperatura", 96), ("(%)<br>wilgotność wzgl.", 183), ("(mm Hg)<br>ciśnienie", 268),
            ("(km/h)<br>wiatr", 355), ("(km)<br>widzialność", 476), ("(frakcja)<br>mgła", 564)]
for s, y in titles_l:
    txt(s, 296, y, NAVY, 12.5, "center", angle=-90)
for s, y in titles_r:
    txt(s, 889, y, NAVY, 12.5, "center", angle=-90)
for cx in (290, 889):
    txt("W", cx, 417, NAVY, 15, "center")
    txt("N", cx + 10, 405, NAVY, 11, "center")
    txt("E", cx + 14, 417, NAVY, 10, "center")
    txt("S", cx + 9, 428, NAVY, 11, "center")

legend_texts = [
    ("Czas lokalny", 5, 15, "black"), ("(CET/CEST)", 5, 26, "black"),
    ("Temperatura gruntu", 5, 43, "#b00000"), ("max/min", 27, 53, "#b00000"),
    ("Temperatura:", 5, 64, "black"), ("punkt środkowy", 13, 77, "#ff0000"),
    ("max/min", 28, 87, "#f8c8c0"), ("odczuwana", 10, 98, "#0000ff"),
    ("max/min", 28, 108, "#a8d8f8"), ("Temp. punktu rosy", 5, 120, "#6a5ad8"),
    ("Opad powyżej skali", 5, 137, "#ff0000"), ("Wilgotność względna", 5, 151, HUMC),
    ("Wystąpienie burzy", 5, 166, "black"), ("Deszcz: max", 5, 180, "#00a000"),
    ("średni", 48, 191, "#00a000"), ("Śnieg:", 5, 202, "#1a3cc8"), ("max", 48, 202, "#1a3cc8"),
    ("średni", 48, 212, "#1a3cc8"), ("Wystąpienie opadu", 5, 224, "#ff0000"),
    ("konwekcyjnego", 5, 237, "#ff0000"), ("Ciśnienie", 5, 263, "black"),
    ("zredukowane", 5, 276, "black"), ("do poziomu morza", 5, 289, "black"),
    ("Wiatr na 10m:", 5, 319, "black"), ("poryw powyżej skali", 10, 335, "#ff0000"),
    ("max porywy wiatru", 10, 348, "#ff0000"), ("prędkość wiatru", 10, 367, NAVY),
    ("w środku obszaru", 10, 381, NAVY), ("kierunek wiatru", 10, 410, NAVY),
    ("Wierzchołek chmur", 5, 430, "#b02020"), ("Podstawa chmur*", 5, 443, "black"),
    ("o pokryciu", 5, 455, "black"), ("> 7.9 okt.", 12, 468, "black"),
    ("> 6.5 okt.", 12, 480, "#404040"), ("> 4.5 okt.", 12, 490, "#a0a0a0"),
    ("> 2.5 okt.", 12, 501, "#ddd5cc"), ("Widzialność", 5, 526, ORANGE),
    ("Chmury:", 5, 543, "black"), ("średnie", 10, 569, "#909090"),
    ("niskie", 10, 582, "#404040"), ("bardzo niskie", 10, 593, "black"),
    ("Mgła", 5, 605, "#ffb000"), ("Czas uniwersalny (UTC)", 5, 622, "black"),
]
for s, x, y, c in legend_texts:
    txt(s, x, y, c, LEGF)
txt("> 0.1 okt.", 12, 511, "white", LEGF, bg="#80c8f8")
txt("wysokie", 10, 556, "white", LEGF, bg="#80c8f8")
txt("* powyżej poziomu morza", 3, 648, "black", 9, bold=True)

legend_lines = [
    ([(67, 15), (135, 15), (156, 42)], "black"),
    ([(103, 43), (120, 43), (146, 77)], "#b00000"),
    ([(91, 77), (115, 77)], "#ff0000"), ([(130, 77), (155, 98)], "#ff0000"),
    ([(70, 98), (115, 98)], "#0000ff"), ([(130, 98), (137, 100)], "#0000ff"),
    ([(95, 120), (135, 120), (142, 114)], "#6a5ad8"),
    ([(102, 137), (146, 137), (146, 147)], "#ff0000"),
    ([(114, 151), (117, 151)], HUMC), ([(130, 151), (143, 170)], HUMC),
    ([(113, 166), (116, 166)], "black"), ([(130, 166), (137, 172)], "black"),
    ([(70, 180), (139, 180)], "#00a000"),
    ([(80, 192), (143, 192), (157, 172)], "#00a000"),
    ([(70, 202), (115, 202)], "#1a3cc8"), ([(130, 202), (161, 172)], "#1a3cc8"),
    ([(80, 212), (140, 212), (161, 172)], "#1a3cc8"),
    ([(102, 224), (143, 224), (147, 219)], "#ff0000"),
    ([(52, 263), (135, 263)], "black"),
    ([(110, 335), (118, 335)], "#ff0000"), ([(130, 335), (138, 317)], "#ff0000"),
    ([(105, 348), (133, 348), (145, 340)], "#ff0000"),
    ([(93, 367), (135, 367)], NAVY),
    ([(87, 410), (135, 410)], NAVY),
    ([(100, 430), (133, 430), (183, 449)], "#b02020"),
    ([(57, 468), (137, 468), (192, 456)], "black"),
    ([(57, 480), (143, 480)], "#404040"),
    ([(57, 490), (132, 490), (137, 500)], "#a0a0a0"),
    ([(57, 501), (137, 501)], "#d8d0c8"),
    ([(57, 510), (137, 510)], "#80c8f8"), ([(57, 512.5), (137, 512.5)], "#80c8f8"),
    ([(67, 527), (130, 527), (173, 465)], ORANGE),
    ([(55, 555), (185, 555)], "#80c8f8"), ([(55, 557.5), (185, 557.5)], "#80c8f8"),
    ([(47, 570), (183, 570)], "#909090"),
    ([(38, 582), (135, 582)], "#404040"),
    ([(73, 593), (133, 593)], "black"),
    ([(27, 605), (218, 605), (218, 600)], "#ffb000"),
    ([(138, 622), (148, 622), (158, 615)], "black"),
]
for pts, c in legend_lines:
    path = "M " + " L ".join("%.5f,%.5f" % (x / W, 1 - y / H) for x, y in pts)
    shapes.append(dict(type="path", path=path, xref="paper", yref="paper", line=dict(color=c, width=1),
                       layer="above"))

L["shapes"] = shapes
L["annotations"] = annos
fig.update_layout(**L)
fig.write_html("out.html", config={"displayModeBar": False},
               post_script="document.body.style.margin='0px';document.body.style.padding='0px';")
